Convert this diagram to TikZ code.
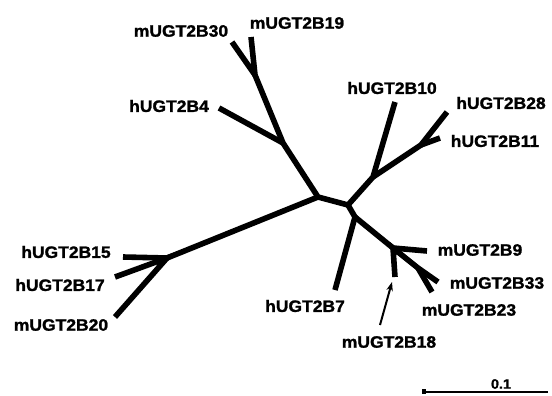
\documentclass[tikz,border=0pt]{standalone}
\usepackage{fontspec}
\setmainfont{Liberation Sans}
\newfontfamily\labfont[FakeStretch=1.06,FakeBold=1.4]{Liberation Sans}
\usetikzlibrary{arrows.meta}
\tikzset{
  branch/.style={line width=5.6pt, line join=miter, line cap=butt},
  taxon/.style={inner sep=0pt, font=\labfont\bfseries\fontsize{16.5}{18}\selectfont},
  pointer/.style={line width=2pt, -{Stealth[length=9pt,width=6.5pt]}},
  scalebar/.style={line width=2pt}
}
\begin{document}
\begin{tikzpicture}[x=1pt,y=-1pt]
\useasboundingbox (0,0) rectangle (552,396);

% internal nodes of the tree
\coordinate (A) at (318,197);
\coordinate (B) at (348,205);
\coordinate (C) at (355,217);
\coordinate (D) at (283,143);
\coordinate (E) at (255,75);
\coordinate (F) at (373,177);
\coordinate (G) at (421,145);
\coordinate (H) at (393,248);
\coordinate (I) at (418,268);
\coordinate (J) at (167,258);

% leaf tips
\coordinate (t30) at (232,42);
\coordinate (t19) at (251,37);
\coordinate (t4)  at (219,108);
\coordinate (t10) at (395,102);
\coordinate (t28) at (447,112);
\coordinate (t11) at (440,138);
\coordinate (t7)  at (335,290);
\coordinate (t9)  at (427,251);
\coordinate (t18) at (395,277);
\coordinate (t33) at (438,282);
\coordinate (t23) at (432,292);
\coordinate (t15) at (123,257);
\coordinate (t17) at (115,277);
\coordinate (t20) at (115,317);

% branches
\draw[branch] (t30) -- (E) -- (t19);
\draw[branch] (E) -- (D) -- (A) -- (B) -- (F) -- (t10);
\draw[branch] (D) -- (t4);
\draw[branch] (F) -- (G) -- (t28);
\draw[branch] (G) -- (t11);
\draw[branch] (B) -- (C) -- (t7);
\draw[branch] (C) -- (H) -- (t9);
\draw[branch] (t18) -- (H) -- (I) -- (t33);
\draw[branch] (I) -- (t23);
\draw[branch] (A) -- (J) -- (t15);
\draw[branch] (t17) -- (J) -- (t20);

% taxon labels
\node[taxon] (l30) at (181,31)  {mUGT2B30};
\node[taxon] (l19) at (297,23)  {mUGT2B19};
\node[taxon] (l4)  at (169,106) {hUGT2B4};
\node[taxon] (l10) at (392,88)  {hUGT2B10};
\node[taxon] (l28) at (501,103) {hUGT2B28};
\node[taxon] (l11) at (495,141) {hUGT2B11};
\node[taxon] (l7)  at (305,306) {hUGT2B7};
\node[taxon] (l9)  at (480,250) {mUGT2B9};
\node[taxon] (l33) at (497,283) {mUGT2B33};
\node[taxon] (l23) at (469,310) {mUGT2B23};
\node[taxon] (l18) at (389,342) {mUGT2B18};
\node[taxon] (l15) at (66,252)  {hUGT2B15};
\node[taxon] (l17) at (60,285)  {hUGT2B17};
\node[taxon] (l20) at (61,325)  {mUGT2B20};

% pointer to the short mUGT2B18 branch
\coordinate (p18) at (380,325);
\coordinate (q18) at (392,282);
\draw[pointer] (p18) -- (q18);

% scale bar
\coordinate (s0) at (423,392);
\coordinate (s1) at (548,392);
\draw[scalebar] (s0) -- (s1);
\fill (s0) ++(-1,-3) rectangle ++(4,5);
\node[taxon, font=\labfont\bfseries\fontsize{13.5}{15}\selectfont] (sl) at (501,384) {0.1};
\end{tikzpicture}
\end{document}
